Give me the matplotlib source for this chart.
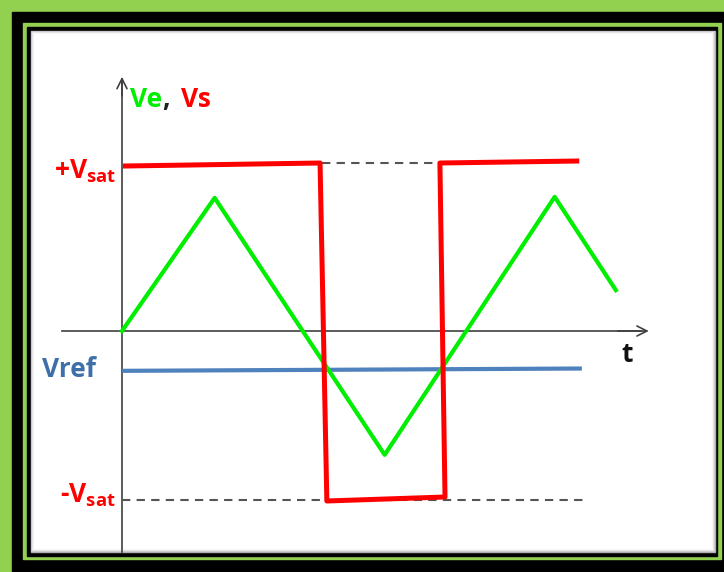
import numpy as np
import matplotlib
matplotlib.use('Agg')
import matplotlib.pyplot as plt
from matplotlib.patches import Rectangle

plt.rcParams['font.family'] = ['Open Sans', 'DejaVu Sans']
plt.rcParams['font.weight'] = 'bold'
plt.rcParams['mathtext.fontset'] = 'custom'
plt.rcParams['mathtext.rm'] = 'Open Sans:bold'
plt.rcParams['mathtext.it'] = 'Open Sans:bold'

# comparator signals (t in arbitrary units, V in volts)
t_ve = [0, 1.09, 3.09, 5.09, 5.81]
ve = [0, 4.01, -3.73, 4.04, 1.23]

t_vs = [0.04, 2.33, 2.41, 3.80, 3.74, 5.35]
vs = [4.97, 5.06, -5.12, -5.0, 5.06, 5.12]

t_ref = [0, 5.41]
vref = [-1.2, -1.13]

vsat = 5.06
neg_vsat = -5.09
t_dash_top = [2.35, 3.71]
t_dash_bot = [0, 5.45]

fig = plt.figure(figsize=(7.24, 5.72), dpi=100)

# decorative frame, drawn in pixel units
bg = fig.add_axes([0, 0, 1, 1])
bg.set_xlim(0, 724)
bg.set_ylim(572, 0)
bg.axis('off')
bg.add_patch(Rectangle((0, 0), 724, 572, color='#92d050', zorder=0))
bg.add_patch(Rectangle((12, 12), 720, 570, color='black', zorder=1))
bg.add_patch(Rectangle((23, 23), 698, 536, color='#92d050', zorder=2))
bg.add_patch(Rectangle((27, 27), 690, 529, color='black', zorder=3))
bg.add_patch(Rectangle((31, 31), 684, 521, color='#b0b0b0', zorder=4))
for i, a in enumerate(np.linspace(0.35, 1.0, 5)):
    bg.add_patch(Rectangle((31 + i, 31 + i), 684 - 2 * i, 521 - 2 * i,
                           facecolor=(1, 1, 1, a), edgecolor='none', zorder=5 + i))
bg.add_patch(Rectangle((36, 36), 674, 511, color='white', zorder=11))

ax = fig.add_axes([0, 0, 1, 1])
ax.set_facecolor('none')
ax.set_xlim(-1.435, 7.082)
ax.set_ylim(-7.259, 9.970)
ax.axis('off')

# axes with arrows
ax.plot([0, 0], [-6.66, 7.6], color='#404040', lw=1.2, zorder=1)
ax.annotate('', xy=(0, 7.74), xytext=(0, 7.0),
            arrowprops=dict(arrowstyle='->', color='#404040', lw=1.2, mutation_scale=18))
ax.plot([-0.71, 6.1], [0, 0], color='#404040', lw=1.2, zorder=1)
ax.annotate('', xy=(6.23, 0), xytext=(5.8, 0),
            arrowprops=dict(arrowstyle='->', color='#404040', lw=1.2, mutation_scale=18))

ax.plot(t_dash_top, [vsat, vsat], color='#555555', lw=1.5, dashes=(4, 3), zorder=1)
ax.plot(t_dash_bot, [neg_vsat, neg_vsat], color='#555555', lw=1.5, dashes=(4, 3), zorder=1)

ax.plot(t_ref, vref, color='#4f81bd', lw=3, zorder=2, solid_capstyle='butt')
ax.plot(t_ve, ve, color='#00ee00', lw=3, zorder=3)
ax.plot(t_vs, vs, color='#ff0000', lw=3.6, zorder=4)

ax.text(0.094, 6.75, 'Ve', color='#00ee00', fontsize=19, fontweight='bold')
ax.text(0.47, 6.75, ',', color='#202020', fontsize=19, fontweight='bold')
ax.text(0.694, 6.75, 'Vs', color='#ff0000', fontsize=19, fontweight='bold')
ax.text(-0.07, 4.58, r'+V$_{\mathrm{sat}}$', color='#ff0000', fontsize=19, ha='right')
ax.text(-0.08, -5.18, r'-V$_{\mathrm{sat}}$', color='#ff0000', fontsize=19, ha='right')
ax.text(-0.94, -1.39, 'Vref', color='#3f6fa8', fontsize=19, fontweight='bold')
ax.text(5.94, -0.93, 't', color='#111111', fontsize=19, fontweight='bold', ha='center')

plt.savefig('out.png', dpi=100)
